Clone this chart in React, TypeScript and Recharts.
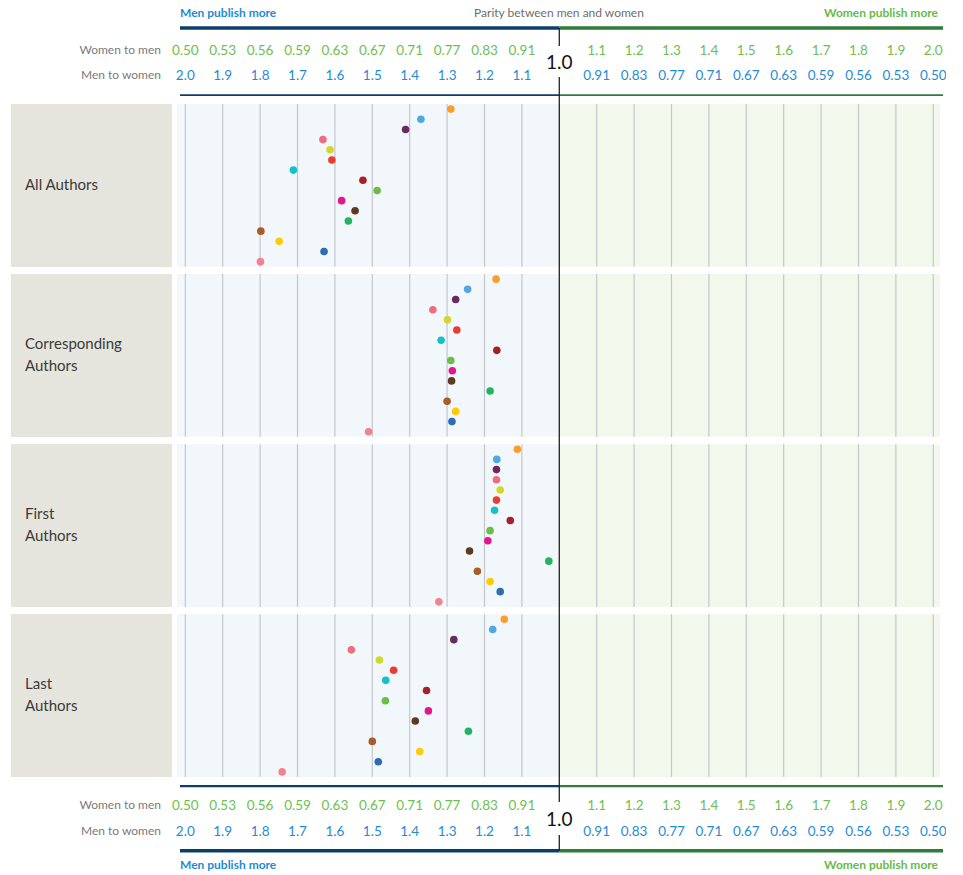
import React from 'react';
import { ScatterChart, Scatter, XAxis, YAxis, ReferenceLine, ReferenceArea } from 'recharts';

// one colour per row, same row order in every panel
const rowColors = [
  '#f99d2b', '#4ea9e1', '#6a2a5f', '#ef6c7c', '#d2d82a', '#ee3b30', '#17bfcb', '#a81f24',
  '#6bbd46', '#e5168b', '#5d3b23', '#24b35f', '#a95b29', '#ffcb05', '#2b6cb5', '#f0838f',
];

// men-to-women ratios
const allAuthors = [1.29, 1.37, 1.411, 1.632, 1.613, 1.608, 1.711, 1.525, 1.487, 1.582, 1.546, 1.564, 1.798, 1.749, 1.629, 1.799];
const correspondingAuthors = [1.169, 1.245, 1.277, 1.338, 1.299, 1.274, 1.316, 1.167, 1.29, 1.286, 1.288, 1.185, 1.3, 1.277, 1.287, 1.51];
const firstAuthors = [1.112, 1.167, 1.168, 1.168, 1.158, 1.168, 1.173, 1.131, 1.185, 1.191, 1.24, 1.028, 1.219, 1.185, 1.158, 1.322];
const lastAuthors = [1.147, 1.178, 1.282, 1.556, 1.481, 1.443, 1.464, 1.355, 1.465, 1.35, 1.385, 1.243, 1.5, 1.373, 1.484, 1.741];

const panelNames = [['All Authors'], ['Corresponding', 'Authors'], ['First', 'Authors'], ['Last', 'Authors']];
const panelValues = [allAuthors, correspondingAuthors, firstAuthors, lastAuthors];

// axis: men-to-women ratios on the left half, women-to-men on the right half
const menToWomenTicks = [2.0, 1.9, 1.8, 1.7, 1.6, 1.5, 1.4, 1.3, 1.2, 1.1];
const womenToMenTicks = [1.1, 1.2, 1.3, 1.4, 1.5, 1.6, 1.7, 1.8, 1.9, 2.0];
const womenToMenLabels = ['0.50', '0.53', '0.56', '0.59', '0.63', '0.67', '0.71', '0.77', '0.83', '0.91', '1.0',
  '1.1', '1.2', '1.3', '1.4', '1.5', '1.6', '1.7', '1.8', '1.9', '2.0'];
const menToWomenLabels = ['2.0', '1.9', '1.8', '1.7', '1.6', '1.5', '1.4', '1.3', '1.2', '1.1', '1.0',
  '0.91', '0.83', '0.77', '0.71', '0.67', '0.63', '0.59', '0.56', '0.53', '0.50'];

const tickPositions = [...menToWomenTicks.map((m) => 1 - m), 0, ...womenToMenTicks.map((w) => w - 1)];

// men-to-women ratio -> axis position (parity at 0)
const toPos = (m: number) => (m >= 1 ? 1 - m : 1 / m - 1);

const XMIN = -1.0222;
const XMAX = 1.026;
const BG_RIGHT = 1.018;
const RULE_LEFT = -1.0142;
const GAP = 0.72;
const ROWS = 16;
const TOTAL = 4 * ROWS + 3 * GAP;

const FONT = 'Lato, "Open Sans", sans-serif';
const NAVY = '#0c3e6c';
const DKGREEN = '#2f7c3b';
const BLUE = '#1f8bd3';
const GREEN = '#66bb4a';
const TICKGREEN = '#6cc04f';
const GRID = '#c4c7ca';
const MARGIN = { top: 0, right: 20, bottom: 0, left: 177 };

const AxisTick = (props: any) => {
  const { x, payload, wY, mY, cY } = props;
  const idx = tickPositions.findIndex((t) => Math.abs(t - payload.value) < 1e-6);
  if (idx < 0) return <g />;
  if (idx === 10) {
    return (
      <text x={x} y={cY} textAnchor="middle" dominantBaseline="central" fontSize={19} fill="#111" fontFamily={FONT}>
        {womenToMenLabels[idx]}
      </text>
    );
  }
  return (
    <g fontFamily={FONT} fontSize={13.5}>
      <text x={x} y={wY} textAnchor="middle" dominantBaseline="central" fill={TICKGREEN}>{womenToMenLabels[idx]}</text>
      <text x={x} y={mY} textAnchor="middle" dominantBaseline="central" fill={BLUE}>{menToWomenLabels[idx]}</text>
    </g>
  );
};

const renderDot = (props: any) => {
  const color = props.color ?? props.payload?.color;
  return <circle cx={props.cx} cy={props.cy} r={3.8} fill={color} />;
};

const AxisBlock = ({ height, wY, mY, cY, ruleA, ruleB, ruleAW, ruleBW, lineSegs }: any) => (
  <ScatterChart width={963} height={height} margin={MARGIN}>
    <XAxis
      type="number"
      dataKey="x"
      orientation="top"
      height={1}
      domain={[XMIN, XMAX]}
      allowDataOverflow
      ticks={tickPositions}
      interval={0}
      axisLine={false}
      tickLine={false}
      tick={(p: any) => <AxisTick {...p} wY={wY} mY={mY} cY={cY} />}
    />
    <YAxis type="number" dataKey="y" hide domain={[1, height]} reversed allowDataOverflow />
    {[ruleA, ruleB].map((ry: number, i: number) => (
      <React.Fragment key={i}>
        <ReferenceLine segment={[{ x: RULE_LEFT, y: ry }, { x: 0, y: ry }]} stroke={NAVY} strokeWidth={i === 0 ? ruleAW : ruleBW} ifOverflow="visible" />
        <ReferenceLine segment={[{ x: 0, y: ry }, { x: XMAX, y: ry }]} stroke={DKGREEN} strokeWidth={i === 0 ? ruleAW : ruleBW} ifOverflow="visible" />
      </React.Fragment>
    ))}
    {lineSegs.map((s: number[], i: number) => (
      <ReferenceLine key={`c${i}`} segment={[{ x: 0, y: s[0] }, { x: 0, y: s[1] }]} stroke="#222" strokeWidth={1.3} ifOverflow="visible" />
    ))}
  </ScatterChart>
);

const titleStyle = (color: string, bold: boolean): React.CSSProperties => ({
  position: 'absolute',
  fontSize: 12,
  fontWeight: bold ? 700 : 400,
  color,
  lineHeight: '16px',
  whiteSpace: 'nowrap',
});

const rowLabel: React.CSSProperties = {
  position: 'absolute',
  left: 40,
  width: 121,
  textAlign: 'right',
  fontSize: 12,
  color: '#7a7a7a',
  lineHeight: '16px',
};

// the original crops the tick rows at the right edge
const edgeMask = (top: number): React.CSSProperties => ({
  position: 'absolute',
  left: 946,
  top,
  width: 17,
  height: 45,
  background: '#fff',
});

export default function App() {
  return (
    <div style={{ position: 'absolute', left: 0, top: 0, width: 963, height: 875, background: '#fff', fontFamily: FONT, overflow: 'hidden' }}>
      {/* header */}
      <div style={{ ...titleStyle(BLUE, true), left: 180, top: 5 }}>Men publish more</div>
      <div style={{ ...titleStyle('#6e6e6e', false), left: 459, width: 200, textAlign: 'center', top: 5 }}>Parity between men and women</div>
      <div style={{ ...titleStyle(GREEN, true), left: 738, width: 200, textAlign: 'right', top: 5 }}>Women publish more</div>
      <div style={{ ...rowLabel, top: 42 }}>Women to men</div>
      <div style={{ ...rowLabel, top: 67 }}>Men to women</div>
      <div style={{ position: 'absolute', left: 0, top: 0 }}>
        <AxisBlock height={96} wY={50} mY={75} cY={61.5} ruleA={28} ruleB={95.5} ruleAW={3.5} ruleBW={2.5} lineSegs={[[28, 46], [77, 96]]} />
      </div>
      <div style={edgeMask(38)} />

      {/* panel labels */}
      {panelNames.map((lines, k) => (
        <div
          key={k}
          style={{
            position: 'absolute',
            left: 11,
            top: 104 + 170 * k,
            width: 161,
            height: 163,
            background: '#e6e5dd',
            display: 'flex',
            flexDirection: 'column',
            justifyContent: 'center',
            paddingLeft: 14,
            paddingBottom: 4,
            boxSizing: 'border-box',
            fontSize: 15,
            lineHeight: '22px',
            color: '#3a3a3a',
          }}
        >
          {lines.map((l) => (
            <div key={l}>{l}</div>
          ))}
        </div>
      ))}

      {/* panels */}
      <div style={{ position: 'absolute', left: 0, top: 96 }}>
        <ScatterChart width={963} height={689} margin={{ ...MARGIN, top: 8, bottom: 8 }}>
          <XAxis type="number" dataKey="x" hide domain={[XMIN, XMAX]} allowDataOverflow />
          <YAxis type="number" dataKey="y" hide domain={[0, TOTAL]} reversed allowDataOverflow />
          {panelValues.map((_, k) => {
            const off = k * (ROWS + GAP);
            return (
              <React.Fragment key={`bg${k}`}>
                <ReferenceArea x1={XMIN} x2={0} y1={off} y2={off + ROWS} fill="#f2f7fc" fillOpacity={1} stroke="none" />
                <ReferenceArea x1={0} x2={BG_RIGHT} y1={off} y2={off + ROWS} fill="#f3f8ed" fillOpacity={1} stroke="none" />
                {tickPositions.filter((t) => t !== 0).map((t) => (
                  <ReferenceLine key={`g${k}-${t}`} segment={[{ x: t, y: off }, { x: t, y: off + ROWS }]} stroke={GRID} strokeWidth={1.2} />
                ))}
              </React.Fragment>
            );
          })}
          <ReferenceLine segment={[{ x: 0, y: -0.8 }, { x: 0, y: TOTAL + 0.8 }]} stroke="#222" strokeWidth={1.3} ifOverflow="visible" />
          {panelValues.map((vals, k) => {
            const off = k * (ROWS + GAP);
            const data = vals.map((m, i) => ({ x: toPos(m), y: off + i + 0.5, color: rowColors[i] }));
            return <Scatter key={`s${k}`} data={data} shape={renderDot} isAnimationActive={false} />;
          })}
        </ScatterChart>
      </div>

      {/* footer */}
      <div style={{ ...rowLabel, top: 797 }}>Women to men</div>
      <div style={{ ...rowLabel, top: 823 }}>Men to women</div>
      <div style={{ position: 'absolute', left: 0, top: 785 }}>
        <AxisBlock height={90} wY={20} mY={46} cY={33.5} ruleA={1} ruleB={65.7} ruleAW={2.5} ruleBW={3.5} lineSegs={[[0, 17], [50, 66]]} />
      </div>
      <div style={edgeMask(794)} />
      <div style={{ ...titleStyle(BLUE, true), left: 180, top: 857 }}>Men publish more</div>
      <div style={{ ...titleStyle(GREEN, true), left: 738, width: 200, textAlign: 'right', top: 857 }}>Women publish more</div>
    </div>
  );
}
